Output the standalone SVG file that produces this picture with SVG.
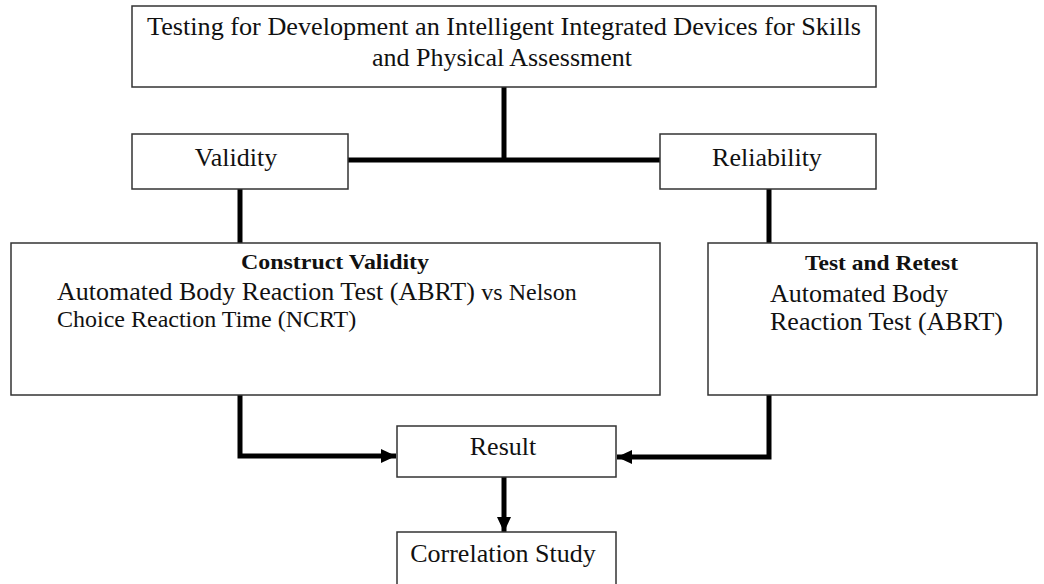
<svg xmlns="http://www.w3.org/2000/svg" width="1044" height="584" viewBox="0 0 1044 584">
<style>
.box{fill:#fff;stroke:#333;stroke-width:1.5}
.t{font-family:"Liberation Serif","Times New Roman",serif;font-size:26px;fill:#111}
.s{font-size:24px}
.b{font-family:"Liberation Serif","Times New Roman",serif;font-size:22px;font-weight:bold;fill:#111}
.c{fill:none;stroke:#000;stroke-width:5}
</style>
<defs>
<marker id="ah" markerUnits="userSpaceOnUse" markerWidth="16" markerHeight="16" refX="15" refY="8" orient="auto">
<path d="M0,1 L15,8 L0,15 Z" fill="#000"/>
</marker>
</defs>
<rect width="1044" height="584" fill="#fff"/>
<g id="connectors">
<path class="c" d="M504 87 V160"/>
<path class="c" d="M348 160 H660"/>
<path class="c" d="M240 189 V243"/>
<path class="c" d="M769 189 V243"/>
<path class="c" d="M240 395 V456 H396" marker-end="url(#ah)"/>
<path class="c" d="M769 395 V457 H617" marker-end="url(#ah)"/>
<path class="c" d="M504 477 V532" marker-end="url(#ah)"/>
</g>
<g id="top">
<rect class="box" x="132" y="6" width="744" height="81"/>
<text class="t" x="504" y="35" text-anchor="middle" textLength="714" lengthAdjust="spacingAndGlyphs">Testing for Development an Intelligent Integrated Devices for Skills</text>
<text class="t" x="502" y="66" text-anchor="middle">and Physical Assessment</text>
</g>
<g id="validity">
<rect class="box" x="132" y="134" width="216" height="55"/>
<text class="t" x="236" y="166" text-anchor="middle">Validity</text>
</g>
<g id="reliability">
<rect class="box" x="660" y="134" width="216" height="55"/>
<text class="t" x="767" y="166" text-anchor="middle">Reliability</text>
</g>
<g id="construct">
<rect class="box" x="11" y="243" width="649" height="152"/>
<text class="b" x="241" y="269" textLength="188" lengthAdjust="spacingAndGlyphs">Construct Validity</text>
<text class="t" x="57" y="300">Automated Body Reaction Test (ABRT) <tspan class="s">vs Nelson</tspan></text>
<text class="t s" x="57" y="327">Choice Reaction Time (NCRT)</text>
</g>
<g id="retest">
<rect class="box" x="708" y="243" width="329" height="152"/>
<text class="b" x="805" y="270" textLength="153" lengthAdjust="spacingAndGlyphs">Test and Retest</text>
<text class="t" x="770" y="302">Automated Body</text>
<text class="t" x="770" y="330">Reaction Test (ABRT)</text>
</g>
<g id="result">
<rect class="box" x="397" y="426" width="219" height="51"/>
<text class="t" x="503" y="455" text-anchor="middle">Result</text>
</g>
<g id="correlation">
<rect class="box" x="397" y="532" width="219" height="60"/>
<text class="t" x="503" y="562" text-anchor="middle">Correlation Study</text>
</g>
</svg>
